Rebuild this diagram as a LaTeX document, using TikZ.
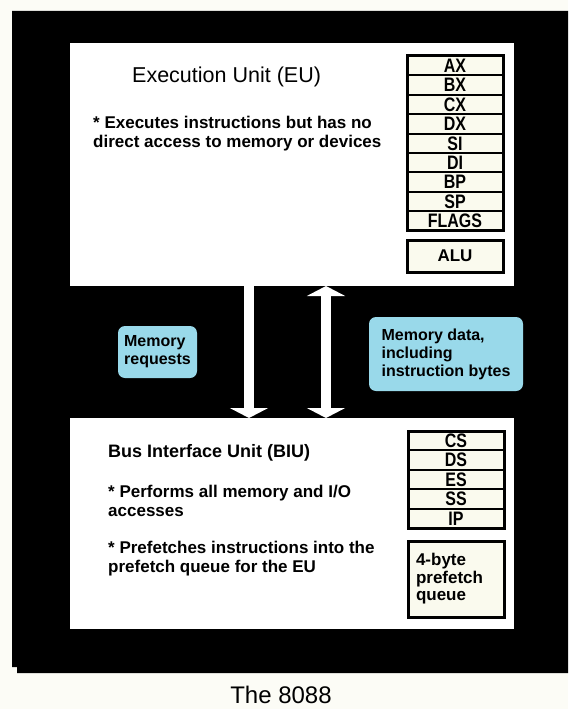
\documentclass[tikz,border=0pt]{standalone}
\usepackage{fontspec}
\setmainfont{Liberation Sans}
\newfontfamily\regfont[FakeStretch=0.82]{Liberation Sans}
\usetikzlibrary{arrows.meta, positioning}

\definecolor{pagebg}{RGB}{252,252,246}
\definecolor{labelblue}{RGB}{153,217,234}
\definecolor{regfill}{RGB}{250,250,238}

\tikzset{
    unitbox/.style={fill=white, inner sep=0pt, outer sep=0pt, anchor=north west},
    regbox/.style={draw, line width=2pt, fill=regfill, inner sep=0pt, outer sep=0pt,
        anchor=north west, minimum width=96pt, minimum height=19.4pt,
        font=\regfont\bfseries\fontsize{19.5}{19.5}\selectfont},
    infotext/.style={anchor=west, align=left, inner sep=0pt,
        font=\bfseries\fontsize{17}{19}\selectfont},
    bubble/.style={fill=labelblue, rounded corners=7pt, inner sep=0pt, outer sep=0pt,
        anchor=north west, align=left, font=\bfseries\fontsize{16}{18}\selectfont},
    bigarrow/.style={white, line width=10pt, >={Triangle[width=38pt, length=10pt]}},
}

\begin{document}
\begin{tikzpicture}[x=1pt, y=-1pt]
    \useasboundingbox (0,0) rectangle (568,709);
    \fill[pagebg] (0,0) rectangle (568,709);

    % Black frame with its small shadow step
    \fill[black] (12,11) -- (568,11) -- (568,673) -- (17,673) -- (17,667) -- (12,667) -- cycle;

    % The two units
    \node[unitbox, minimum width=444pt, minimum height=243pt] (eu) at (70,43) {};
    \node[unitbox, minimum width=444pt, minimum height=211pt] (biu) at (70,418) {};

    % Execution unit text
    \node[anchor=west, inner sep=0pt, font=\fontsize{21.5}{24}\selectfont] (eutitle) at (132,76.5) {Execution Unit (EU)};
    \node[infotext] (eunote) at (93,133.5) {* Executes instructions but has no\\direct access to memory or devices};

    % EU registers
    \foreach \reg [count=\i from 0] in {AX,BX,CX,DX,SI,DI,BP,SP,FLAGS} {
        \node[regbox] (\reg) at (407,{56+19.4*\i}) {\reg};
    }
    \draw[line width=3pt] (AX.north west) rectangle (FLAGS.south east);
    \node[regbox, minimum height=32pt, line width=3pt, font=\bfseries\fontsize{17}{17}\selectfont] (alu) at (407,240) {ALU};

    % Bus interface unit text
    \node[infotext, font=\bfseries\fontsize{18}{20}\selectfont] (biutitle) at (108,453) {Bus Interface Unit (BIU)};
    \node[infotext] (biunote1) at (108,500.5) {* Performs all memory and I/O\\accesses};
    \node[infotext] (biunote2) at (108,558.5) {* Prefetches instructions into the\\prefetch queue for the EU};

    % BIU registers
    \foreach \reg [count=\i from 0] in {CS,DS,ES,SS,IP} {
        \node[regbox] (\reg) at (408,{431+19.4*\i}) {\reg};
    }
    \draw[line width=3pt] (CS.north west) rectangle (IP.south east);
    \node[regbox, minimum height=76pt, line width=3pt, text width=80pt, align=left, font=\bfseries\fontsize{17}{17.5}\selectfont] (queue) at (408,541) {4-byte\\prefetch\\queue};

    % Traffic between the units
    \coordinate (reqx) at (249,0);
    \coordinate (datax) at (326,0);
    \draw[bigarrow, ->] (eu.south -| reqx) -- (biu.north -| reqx);
    \draw[bigarrow, <->] (eu.south -| datax) -- (biu.north -| datax);

    \node[bubble, minimum width=79pt, minimum height=52pt] (req) at (118,326) {Memory\\requests};
    \node[bubble, minimum width=154pt, minimum height=74pt] (data) at (369,317) {Memory data,\\including\\instruction bytes};

    % Caption
    \node[inner sep=0pt, font=\fontsize{24}{26}\selectfont] (caption) at (281,695) {The 8088};
\end{tikzpicture}
\end{document}
